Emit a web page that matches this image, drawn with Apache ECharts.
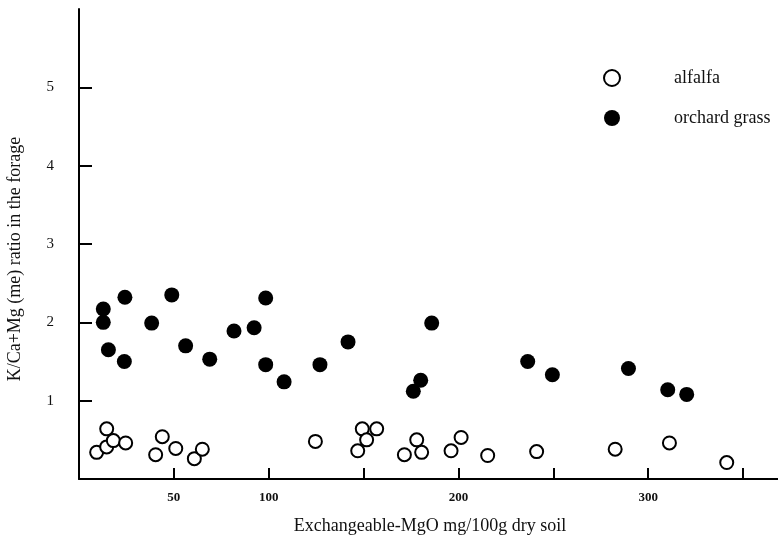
<!DOCTYPE html>
<html>
<head>
<meta charset="utf-8">
<script src="https://cdn.jsdelivr.net/npm/echarts@6/dist/echarts.min.js"></script>
<style>
  html, body { margin: 0; padding: 0; background: #fff; }
  #chart { width: 778px; height: 538px; }
</style>
</head>
<body>
<div id="chart"></div>
<script>
// Exchangeable MgO in soil (mg/100g) vs. K/(Ca+Mg) ratio in the forage
const alfalfaMgO = [9.3, 14.6, 14.6, 18.1, 24.6, 40.4, 43.9, 51.0, 60.8, 65.0,
  124.6, 146.9, 149.3, 151.6, 156.9, 171.5, 178.0, 180.6, 196.1, 201.4, 215.4,
  241.2, 282.6, 311.2, 341.4];
const alfalfaRatio = [0.34, 0.64, 0.41, 0.49, 0.46, 0.31, 0.54, 0.39, 0.26, 0.38,
  0.48, 0.36, 0.64, 0.50, 0.64, 0.31, 0.50, 0.34, 0.36, 0.53, 0.30,
  0.35, 0.38, 0.46, 0.21];

const grassMgO = [12.8, 12.8, 24.2, 15.5, 23.9, 48.9, 38.3, 56.2, 68.9, 81.7,
  92.3, 98.4, 98.4, 108.1, 127.0, 141.8, 185.9, 180.1, 176.2, 236.5, 249.5,
  289.6, 310.3, 320.3];
const grassRatio = [2.17, 2.00, 2.32, 1.65, 1.50, 2.35, 1.99, 1.70, 1.53, 1.89,
  1.93, 2.31, 1.46, 1.24, 1.46, 1.75, 1.99, 1.26, 1.12, 1.50, 1.33,
  1.41, 1.14, 1.08];

const xTickValues = [50, 100, 150, 200, 250, 300, 350];
const xLabelValues = [50, 100, 200, 300];
const yTickValues = [1, 2, 3, 4, 5];

const pairs = (xs, ys) => xs.map((x, i) => [x, ys[i]]);

const serif = '"Liberation Serif", "DejaVu Serif", serif';
const chart = echarts.init(document.getElementById('chart'), null, { renderer: 'canvas' });

chart.setOption({
  backgroundColor: '#ffffff',
  animation: false,
  grid: { left: 79, right: -3, top: 9, bottom: 59, containLabel: false, outerBoundsMode: 'none' },
  legend: {
    orient: 'vertical',
    left: 598,
    top: 64,
    itemWidth: 16,
    itemHeight: 16,
    itemGap: 22,
    textStyle: { fontFamily: serif, fontSize: 18, color: '#111', padding: [0, 0, 0, 49] },
    data: ['alfalfa', 'orchard grass']
  },
  xAxis: {
    type: 'value',
    min: 0,
    max: 370,
    name: 'Exchangeable-MgO mg/100g dry soil',
    nameLocation: 'middle',
    nameGap: 38,
    nameTextStyle: { fontFamily: serif, fontSize: 18, color: '#111' },
    axisLine: { show: true, lineStyle: { color: '#000', width: 2 } },
    axisTick: { show: true, inside: true, length: 11, customValues: xTickValues,
      lineStyle: { color: '#000', width: 2 } },
    axisLabel: { customValues: xLabelValues, margin: 12, fontFamily: serif,
      fontSize: 13, fontWeight: 'bold', color: '#111' },
    splitLine: { show: false }
  },
  yAxis: {
    type: 'value',
    min: 0,
    max: 6,
    name: 'K/Ca+Mg (me) ratio in the forage',
    nameLocation: 'middle',
    nameGap: 55,
    nameTextStyle: { fontFamily: serif, fontSize: 18, color: '#111', padding: [0, 30, 0, 0] },
    axisLine: { show: true, lineStyle: { color: '#000', width: 2 } },
    axisTick: { show: true, inside: true, length: 13, customValues: yTickValues,
      lineStyle: { color: '#000', width: 2 } },
    axisLabel: { customValues: yTickValues, margin: 25, fontFamily: serif,
      fontSize: 15, color: '#111' },
    splitLine: { show: false }
  },
  series: [
    {
      name: 'alfalfa',
      type: 'scatter',
      symbol: 'circle',
      symbolSize: 13,
      itemStyle: { color: '#ffffff', borderColor: '#000', borderWidth: 2, opacity: 1 },
      data: pairs(alfalfaMgO, alfalfaRatio)
    },
    {
      name: 'orchard grass',
      type: 'scatter',
      symbol: 'circle',
      symbolSize: 15,
      itemStyle: { color: '#000', opacity: 1 },
      data: pairs(grassMgO, grassRatio)
    }
  ]
});
</script>
</body>
</html>
